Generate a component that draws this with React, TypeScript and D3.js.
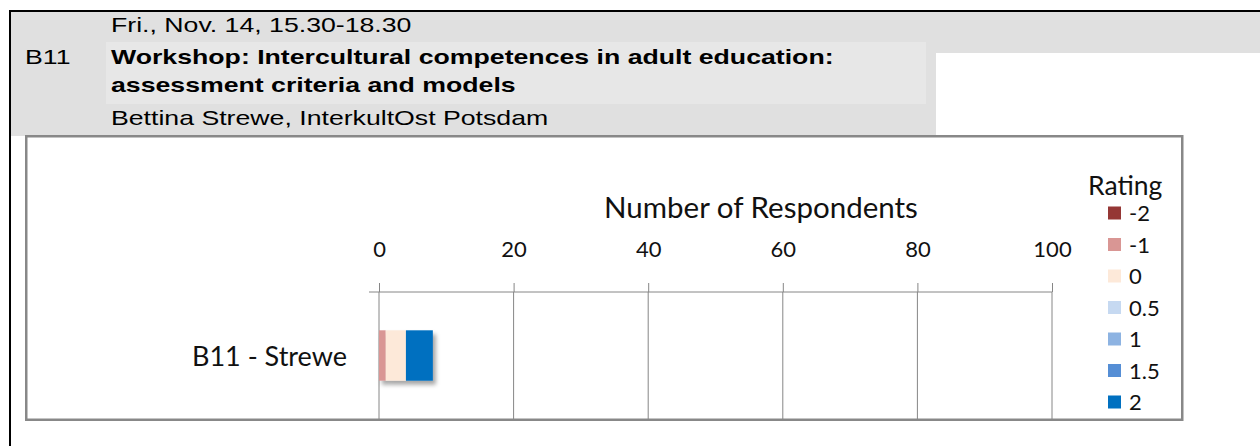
import { useEffect, useRef } from "react";
import * as d3 from "d3";

const CATEGORIES = ["B11 - Strewe"];
const RATINGS = ["-2", "-1", "0", "0.5", "1", "1.5", "2"];
const RATING_COLORS = ["#953735", "#d99694", "#fde9d9", "#c6d9f1", "#8db3e2", "#558ed5", "#0070c0"];
// respondents per rating, one row per category
const COUNTS = [[0, 1, 3, 0, 0, 0, 4]];
const X_TICKS = [0, 20, 40, 60, 80, 100];

const SESSION_CODE = "B11";
const SESSION_TIME = "Fri., Nov. 14, 15.30-18.30";
const SESSION_TITLE = ["Workshop: Intercultural competences in adult education:", "assessment criteria and models"];
const SESSION_SPEAKER = "Bettina Strewe, InterkultOst Potsdam";

const W = 1260;
const H = 446;
const HEAD_FONT = "'Liberation Sans', Arial, sans-serif";
const CHART_FONT = "Lato, 'Open Sans', sans-serif";
const GRID = "#868686";
// the header in the source is stretched sideways
const HEAD_STRETCH = 1.27;

export default function App() {
  const svgRef = useRef<SVGSVGElement>(null);

  useEffect(() => {
    if (!svgRef.current) return;
    const svg = d3.select(svgRef.current);
    svg.selectAll("*").remove();

    // ---- header block ----
    svg.append("rect").attr("x", 11).attr("y", 12).attr("width", W - 11).attr("height", 41).attr("fill", "#e0e0e0");
    svg.append("rect").attr("x", 11).attr("y", 53).attr("width", 925).attr("height", 83).attr("fill", "#e0e0e0");
    svg.append("rect").attr("x", 106).attr("y", 42).attr("width", 820).attr("height", 62).attr("fill", "#e7e7e7");
    svg.append("rect").attr("x", 9).attr("y", 10).attr("width", W - 9).attr("height", 2).attr("fill", "#000");
    svg.append("rect").attr("x", 9).attr("y", 10).attr("width", 2).attr("height", H - 10).attr("fill", "#000");

    const head = svg.append("g").attr("font-family", HEAD_FONT).attr("font-size", "21px").attr("fill", "#000");
    const headLine = (tx: number, ty: number, text: string, bold = false) =>
      head.append("text")
        .attr("transform", `translate(${tx},${ty}) scale(${HEAD_STRETCH},1)`)
        .attr("font-weight", bold ? "700" : "400")
        .text(text);
    headLine(111, 32, SESSION_TIME);
    headLine(25, 64, SESSION_CODE);
    SESSION_TITLE.forEach((t, i) => headLine(111, 64 + i * 28, t, true));
    headLine(111, 125, SESSION_SPEAKER);

    // ---- chart frame ----
    svg.append("rect")
      .attr("x", 26.25).attr("y", 136.25).attr("width", 1156).attr("height", 283.5)
      .attr("fill", "#fff").attr("stroke", "#888").attr("stroke-width", 2.5);

    const defs = svg.append("defs");
    const f = defs.append("filter").attr("id", "barShadow")
      .attr("x", "-10%").attr("y", "-20%").attr("width", "130%").attr("height", "160%");
    f.append("feDropShadow").attr("dx", 3).attr("dy", 4).attr("stdDeviation", 2.2)
      .attr("flood-color", "#000").attr("flood-opacity", 0.35);

    const x = d3.scaleLinear().domain([0, 100]).range([379, 1052]);
    const y = d3.scaleBand<string>().domain(CATEGORIES).range([292, 419]).paddingInner(0).paddingOuter(0.76);

    const g = svg.append("g").attr("font-family", CHART_FONT).attr("fill", "#000");

    // gridlines
    g.selectAll("line.grid")
      .data(X_TICKS.slice(1))
      .enter().append("line")
      .attr("x1", (d) => x(d)).attr("x2", (d) => x(d))
      .attr("y1", 292).attr("y2", 419)
      .attr("stroke", GRID).attr("stroke-width", 1);

    // top value axis
    const axis = g.append("g").attr("transform", "translate(0,292)")
      .call(d3.axisTop(x).tickValues(X_TICKS).tickSize(9).tickPadding(26).tickFormat((d) => String(d)));
    axis.select(".domain").remove();
    axis.selectAll(".tick line").attr("stroke", GRID);
    axis.selectAll(".tick text").attr("fill", "#111").attr("font-size", "22px").attr("font-family", CHART_FONT);
    g.append("line").attr("x1", 369).attr("x2", x(100)).attr("y1", 292).attr("y2", 292).attr("stroke", GRID);
    // category axis
    g.append("line").attr("x1", x(0)).attr("x2", x(0)).attr("y1", 292).attr("y2", 419).attr("stroke", GRID);

    g.append("text")
      .attr("x", 761).attr("y", 218).attr("text-anchor", "middle")
      .attr("font-size", "29.5px").attr("fill", "#111")
      .text("Number of Respondents");

    // category labels
    g.selectAll("text.cat")
      .data(CATEGORIES)
      .enter().append("text")
      .attr("x", 347).attr("y", (d) => (y(d) ?? 0) + y.bandwidth() / 2 + 10)
      .attr("text-anchor", "end").attr("font-size", "27px").attr("fill", "#111")
      .text((d) => d);

    // stacked bars
    const rows = CATEGORIES.map((c, i) => {
      const r: Record<string, number | string> = { category: c };
      RATINGS.forEach((k, j) => (r[k] = COUNTS[i][j]));
      return r;
    });
    const series = d3.stack<Record<string, number | string>>().keys(RATINGS)(rows as any);
    const bars = g.append("g").attr("filter", "url(#barShadow)");
    series.forEach((s, si) => {
      bars.selectAll(null)
        .data(s)
        .enter().append("rect")
        .attr("x", (d) => x(d[0]))
        .attr("width", (d) => x(d[1]) - x(d[0]))
        .attr("y", (d) => y(String(d.data.category)) ?? 0)
        .attr("height", y.bandwidth())
        .attr("fill", RATING_COLORS[si]);
    });

    // legend
    const lg = g.append("g");
    lg.append("text").attr("x", 1088).attr("y", 195).attr("font-size", "26.5px").attr("fill", "#111").text("Rating");
    const legendY = d3.scalePoint<string>().domain(RATINGS).range([213, 402]);
    const items = lg.selectAll("g.item").data(RATINGS).enter().append("g")
      .attr("transform", (d) => `translate(1108,${legendY(d)})`);
    items.append("rect").attr("x", 0).attr("y", -6.5).attr("width", 13).attr("height", 13)
      .attr("fill", (_d, i) => RATING_COLORS[i]);
    items.append("text").attr("x", 21).attr("y", 8).attr("font-size", "22px").attr("fill", "#111").text((d) => d);
  }, []);

  return (
    <div style={{ position: "absolute", left: 0, top: 0, width: W, height: H, background: "#fff" }}>
      <svg ref={svgRef} width={W} height={H} style={{ display: "block" }} />
    </div>
  );
}
